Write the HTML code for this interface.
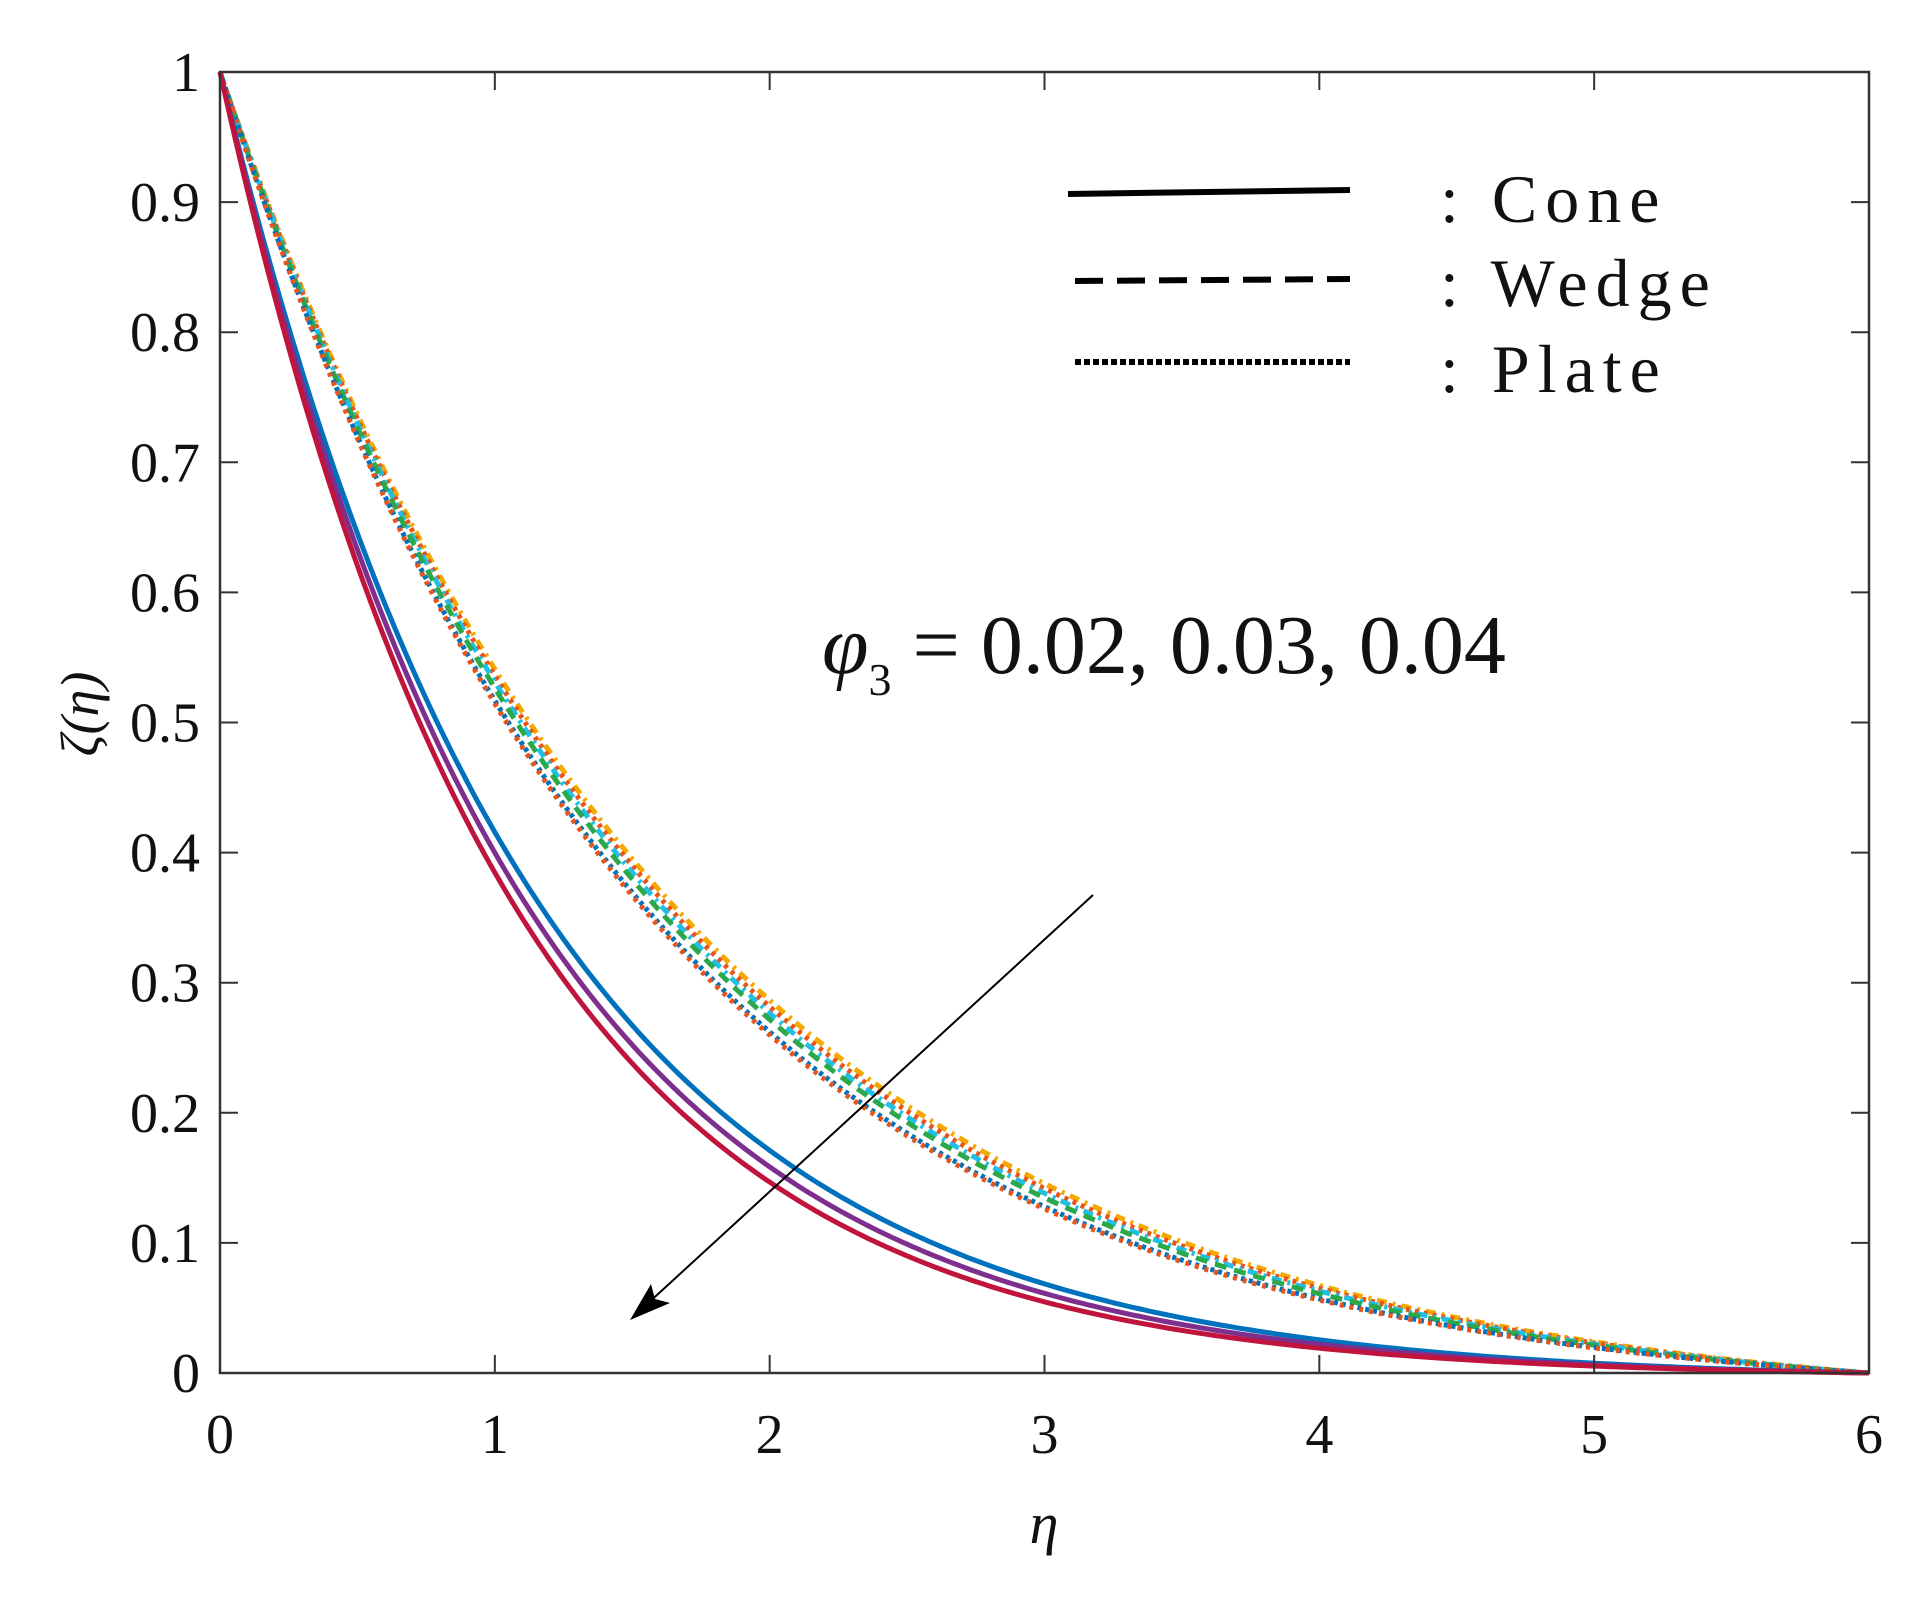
<!DOCTYPE html><html><head><style>body{margin:0;background:#fff}svg{display:block}text{font-family:"Liberation Serif",serif;fill:#111}</style></head><body>
<svg id="s" width="1930" height="1597" xmlns="http://www.w3.org/2000/svg"></svg>
<script>
const s=document.getElementById('s');const X0=220,X1=1869,Y0=72,Y1=1373;
const px=e=>X0+(X1-X0)*e/6, py=v=>Y1-(Y1-Y0)*v;
let h='';
function curve(k,c,w,da){let d='';for(let i=0;i<=300;i++){const e=6*i/300;const v=(Math.exp(-k*e)-Math.exp(-6*k))/(1-Math.exp(-6*k));d+=(i?'L':'M')+px(e).toFixed(1)+' '+py(v).toFixed(1);}h+=`<path d="${d}" fill="none" stroke="${c}" stroke-width="${w}" ${da?`stroke-dasharray="${da}"`:''}/>`;}
curve(0.59,'#f5a800',5,'10 6 3 6');curve(0.60,'#e8541a',5,'4 5');curve(0.61,'#1ec0e8',5,'10 6 3 6');curve(0.62,'#2aa84a',5,'12 8');curve(0.64,'#0072bd',5,'4 4');curve(0.645,'#e8541a',5,'4 6');
curve(0.87,'#0072bd',5);curve(0.91,'#7e2f8e',5);curve(0.95,'#c0143c',5);
h+=`<rect x="${X0}" y="${Y0}" width="${X1-X0}" height="${Y1-Y0}" fill="none" stroke="#333" stroke-width="2.5"/>`;
for(let i=0;i<=6;i++){const x=px(i);h+=`<line x1="${x}" y1="${Y1}" x2="${x}" y2="${Y1-18}" stroke="#333" stroke-width="2"/><line x1="${x}" y1="${Y0}" x2="${x}" y2="${Y0+18}" stroke="#333" stroke-width="2"/><text x="${x}" y="1453" font-size="56" text-anchor="middle">${i}</text>`;}
for(let i=0;i<=10;i++){const y=py(i/10);h+=`<line x1="${X0}" y1="${y}" x2="${X0+18}" y2="${y}" stroke="#333" stroke-width="2"/><line x1="${X1}" y1="${y}" x2="${X1-18}" y2="${y}" stroke="#333" stroke-width="2"/><text x="200" y="${y+19}" font-size="56" text-anchor="end">${i==0?'0':i==10?'1':'0.'+i}</text>`;}
h+=`<text x="1044" y="1543" font-size="58" font-style="italic" text-anchor="middle">η</text>`;
h+=`<text transform="translate(98,714) rotate(-90)" font-size="54" font-style="italic" text-anchor="middle">ζ(η)</text>`;
h+=`<line x1="1068" y1="194" x2="1350" y2="190" stroke="#000" stroke-width="6"/><line x1="1075" y1="281" x2="1350" y2="279" stroke="#000" stroke-width="6" stroke-dasharray="28 14"/><line x1="1075" y1="362" x2="1350" y2="362" stroke="#000" stroke-width="6" stroke-dasharray="6 3"/>`;
[[':  Cone',222],[':  Wedge',306],[':  Plate',392]].forEach(([t,y])=>h+=`<text x="1440" y="${y}" font-size="68" letter-spacing="8">${t}</text>`);
h+=`<text x="822" y="673" font-size="84"><tspan font-style="italic">φ</tspan><tspan font-size="46" dy="22">3</tspan><tspan dy="-22"> =  0.02, 0.03, 0.04</tspan></text>`;
h+=`<line x1="1093" y1="895" x2="645" y2="1306" stroke="#000" stroke-width="2"/><path d="M630 1320 L651 1284 L655 1299 L670 1303 Z" fill="#000"/>`;
s.innerHTML=h;
</script></body></html>
